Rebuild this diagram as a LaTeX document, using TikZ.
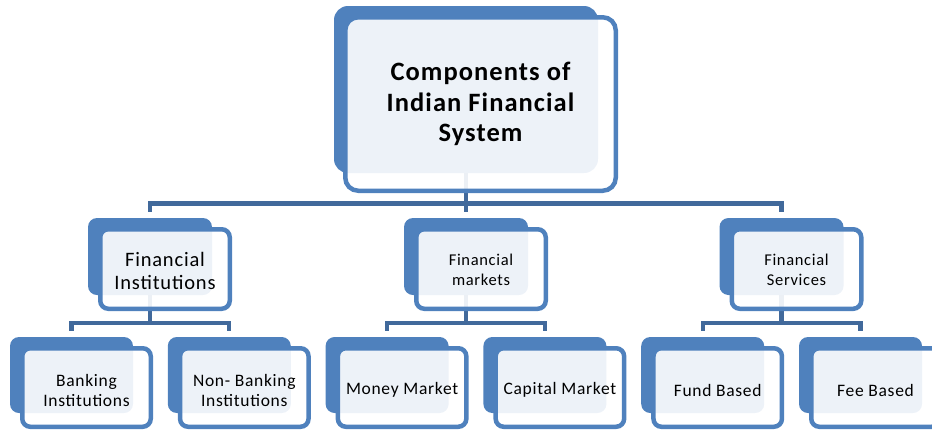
\documentclass[tikz,border=0pt]{standalone}
\usepackage{fontspec}
\setmainfont{Carlito}[LetterSpace=4]
\usetikzlibrary{calc}
\definecolor{acc}{HTML}{4F81BD}
\definecolor{conncol}{HTML}{41699B}
\pgfdeclarelayer{bg}
\pgfsetlayers{bg,main}
\tikzset{
  backbox/.style={fill=acc, rounded corners=9pt, inner sep=0pt, minimum width=123pt, minimum height=76pt},
  frontbox/.style={draw=acc, line width=4.5pt, fill=white, fill opacity=0.9, rounded corners=8pt, inner sep=0pt, minimum width=128.5pt, minimum height=78.5pt},
  lvltwo/.style={minimum width=129.5pt, minimum height=79.5pt},
  lvltwoback/.style={minimum width=124pt, minimum height=77pt},
  conn/.style={draw=conncol, line width=4.3pt},
  txt/.style={align=center, text=black, inner sep=0pt},
  bigtxt/.style={txt, font=\fontsize{20.5}{23}\selectfont},
  smalltxt/.style={txt, font=\fontsize{16.5}{20}\selectfont},
  leaftxt/.style={txt, font=\fontsize{17.5}{20}\selectfont},
}
\begin{document}
\begin{tikzpicture}[x=1pt,y=-1pt]
\useasboundingbox (0,0) rectangle (932,429);
% top
\node[backbox, minimum width=264pt, minimum height=167pt, rounded corners=14pt] (Tb) at (466,89.5) {};
\node[frontbox, minimum width=270.5pt, minimum height=173.5pt, rounded corners=13pt] (T) at (480.5,104) {};
\node[txt, font=\bfseries\fontsize{26.5}{30.5}\selectfont] (Tt) at ($(T.center)+(0,0)$) {Components of\\Indian Financial\\System};
% level 2
\node[backbox, lvltwoback] (Ab) at (150,256.5) {};
\node[frontbox, lvltwo] (A) at (165,269) {};
\node[bigtxt] (At) at ($(A.center)+(0,1.5)$) {Financial\\Institutions};
\node[backbox, lvltwoback] (Bb) at (466,256.5) {};
\node[frontbox, lvltwo] (B) at (481,269) {};
\node[smalltxt] (Bt) at ($(B.center)+(0,1)$) {Financial\\markets};
\node[backbox, lvltwoback] (Cb) at (781.5,256.5) {};
\node[frontbox, lvltwo] (C) at (796.5,269) {};
\node[smalltxt] (Ct) at ($(C.center)+(0,1)$) {Financial\\Services};
% level 3
\node[backbox] (a1b) at (71.5,375) {};
\node[frontbox] (a1) at (86.5,387.5) {};
\node[leaftxt] (a1t) at ($(a1.center)+(0,2.5)$) {Banking\\Institutions};
\node[backbox] (a2b) at (229.3,375) {};
\node[frontbox] (a2) at (244.3,387.5) {};
\node[leaftxt] (a2t) at ($(a2.center)+(0,2.5)$) {Non- Banking\\Institutions};
\node[backbox] (b1b) at (387.1,375) {};
\node[frontbox] (b1) at (402.1,387.5) {};
\node[leaftxt] (b1t) at ($(b1.center)+(0,2.5)$) {Money Market};
\node[backbox] (b2b) at (544.9,375) {};
\node[frontbox] (b2) at (559.9,387.5) {};
\node[leaftxt] (b2t) at ($(b2.center)+(0,2.5)$) {Capital Market};
\node[backbox] (c1b) at (702.7,375) {};
\node[frontbox] (c1) at (717.7,387.5) {};
\node[leaftxt] (c1t) at ($(c1.center)+(0,2.5)$) {Fund Based};
\node[backbox] (c2b) at (860.5,375) {};
\node[frontbox] (c2) at (875.5,387.5) {};
\node[leaftxt] (c2t) at ($(c2.center)+(0,2.5)$) {Fee Based};
% connectors
\coordinate (bus) at (466,203.5);
\coordinate (busA) at (150,323);
\coordinate (busB) at (466,323);
\coordinate (busC) at (781.5,323);
\begin{pgfonlayer}{bg}
\draw[conn] (Tb.center) -- (bus);
\draw[conn] ($(Ab.north)+(0,-6)$) |- (bus) -| ($(Cb.north)+(0,-6)$);
\draw[conn] (bus) -- ($(Bb.north)+(0,-6)$);
\draw[conn] (Ab.center) -- (busA);
\draw[conn] ($(a1b.north)+(0,-6)$) |- (busA) -| ($(a2b.north)+(0,-6)$);
\draw[conn] (Bb.center) -- (busB);
\draw[conn] ($(b1b.north)+(0,-6)$) |- (busB) -| ($(b2b.north)+(0,-6)$);
\draw[conn] (Cb.center) -- (busC);
\draw[conn] ($(c1b.north)+(0,-6)$) |- (busC) -| ($(c2b.north)+(0,-6)$);
\end{pgfonlayer}
\end{tikzpicture}
\end{document}
